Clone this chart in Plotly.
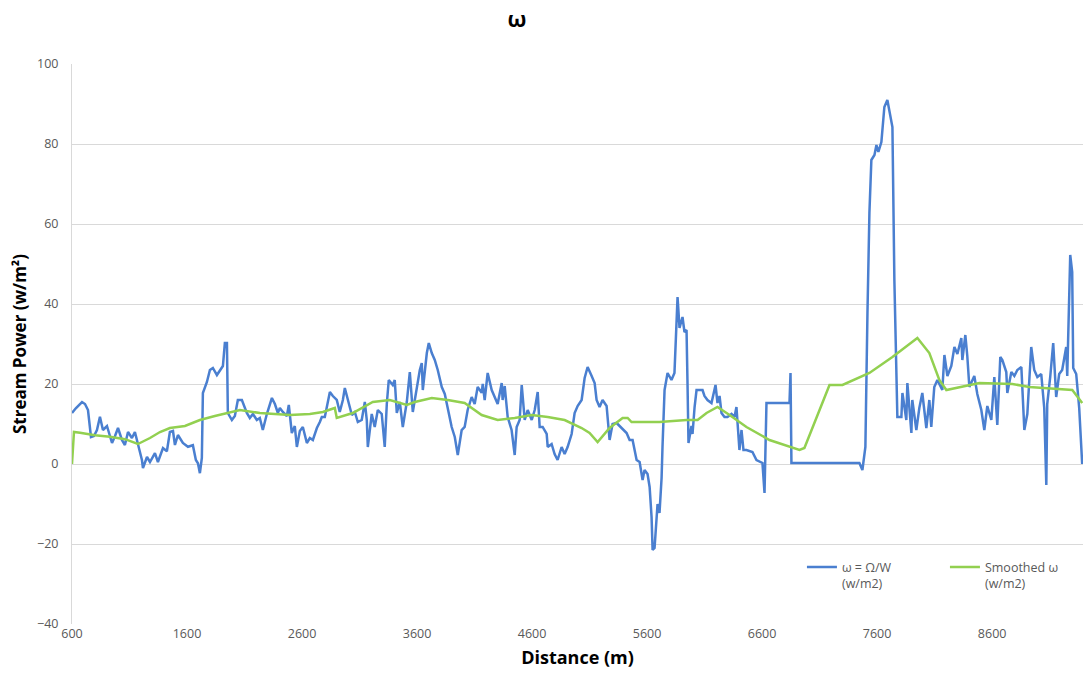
import plotly.graph_objects as go

# Raw ω = Ω/W series (distance in m, value in w/m2)
omega_dist = [600, 635, 687, 713, 739, 765, 791, 817, 843, 869, 904, 948, 974, 1000, 1034, 1060, 1087, 1121, 1147, 1173,
              1208, 1217, 1252, 1278, 1321, 1347, 1391, 1425, 1451, 1478, 1495, 1521, 1564, 1608, 1651, 1677, 1695, 1712, 1729, 1738,
              1773, 1799, 1825, 1860, 1886, 1912, 1929, 1947, 1955, 1990, 2016, 2042, 2077, 2120, 2146, 2173, 2207, 2233, 2259, 2294,
              2338, 2364, 2390, 2407, 2433, 2468, 2485, 2511, 2537, 2555, 2581, 2607, 2642, 2668, 2694, 2729, 2755, 2772, 2798, 2842,
              2868, 2902, 2928, 2955, 2972, 2998, 3033, 3059, 3085, 3119, 3146, 3163, 3172, 3206, 3232, 3259, 3293, 3319, 3337, 3354,
              3389, 3406, 3424, 3450, 3476, 3511, 3537, 3563, 3598, 3624, 3641, 3650, 3685, 3702, 3728, 3754, 3780, 3815, 3841, 3867,
              3901, 3928, 3954, 3988, 4014, 4040, 4075, 4101, 4127, 4162, 4171, 4188, 4214, 4249, 4275, 4301, 4336, 4344, 4362, 4388,
              4422, 4449, 4466, 4492, 4510, 4536, 4562, 4597, 4623, 4649, 4666, 4692, 4727, 4736, 4770, 4796, 4822, 4857, 4883, 4909,
              4944, 4970, 4996, 5031, 5057, 5083, 5118, 5144, 5161, 5187, 5213, 5248, 5274, 5300, 5335, 5378, 5422, 5448, 5474, 5509,
              5535, 5561, 5578, 5604, 5622, 5639, 5648, 5665, 5682, 5691, 5708, 5726, 5734, 5752, 5778, 5812, 5838, 5856, 5865, 5882,
              5908, 5925, 5943, 5951, 5960, 5986, 5995, 6013, 6030, 6082, 6099, 6125, 6160, 6195, 6212, 6230, 6247, 6273, 6299, 6334,
              6360, 6377, 6403, 6421, 6438, 6464, 6516, 6551, 6603, 6621, 6638, 6838, 6847, 6855, 7446, 7472, 7498, 7516, 7533, 7550,
              7577, 7594, 7611, 7637, 7646, 7663, 7689, 7707, 7733, 7750, 7768, 7776, 7811, 7820, 7854, 7863, 7898, 7906, 7941, 7967,
              7993, 8028, 8054, 8071, 8097, 8124, 8167, 8185, 8211, 8245, 8272, 8298, 8332, 8341, 8367, 8384, 8402, 8445, 8471, 8506,
              8532, 8558, 8593, 8619, 8645, 8671, 8689, 8723, 8732, 8767, 8793, 8819, 8854, 8880, 8906, 8940, 8966, 8993, 9027, 9053,
              9071, 9079, 9105, 9131, 9157, 9183, 9209, 9244, 9253, 9279, 9296, 9305, 9331, 9357, 9383]
omega_vals = [12.75, 14, 15.5, 15, 13.5, 6.75, 7, 8.5, 11.8, 8.5, 9.5, 5.25, 7, 9, 6, 4.75, 8, 6.5, 8, 4.75,
              1, -1, 1.75, 0.5, 2.7, 0.5, 4, 3.2, 8, 8.25, 4.75, 7.25, 5.25, 4.3, 4.7, 1, 0.2, -2.3, 1.5, 17.75,
              20.5, 23.5, 24, 22.25, 23.5, 24.5, 30.25, 30.25, 12.75, 11, 12, 16, 16, 12.75, 11.5, 12.5, 11, 11.5, 8.5, 12.5,
              16.5, 15, 12.75, 14, 13, 12, 14.75, 7.75, 9.5, 4.25, 8.25, 9.25, 5.25, 6.5, 6, 9, 10.5, 11.75, 11.75, 18,
              17, 16, 13, 16, 19, 16, 12.25, 13, 10.5, 11, 15.5, 11, 4.25, 12.5, 9.25, 13.5, 12.5, 4.25, 15, 21,
              19.75, 21, 12.75, 15.5, 9.25, 15.5, 23, 13, 19, 23.5, 25.25, 18.5, 27.75, 30.25, 27.75, 26, 23.5, 19.25, 17.5, 14.25,
              9.25, 6.75, 2.25, 8.5, 9.25, 13.5, 16.75, 15, 19.25, 17.8, 20, 16, 22.75, 18.5, 16.75, 15, 20.25, 16, 19.5, 11.75,
              8.5, 2.25, 9.25, 11, 19.75, 11, 13.5, 11, 13.5, 18, 9.25, 9.25, 7.5, 4.25, 5, 2.5, 1, 4.25, 2.5, 4.25,
              7.5, 12.75, 14.5, 16, 21.5, 24.25, 22, 20.25, 16, 14.25, 16, 14.5, 6, 10, 10.25, 9, 7.75, 6, 6, 1,
              0.5, -4, -1.5, -2.5, -5.75, -13.25, -21.5, -21, -14, -10, -12.25, -3.5, 4.25, 18.5, 22.75, 21, 22.75, 39.25, 41.75, 34,
              36.75, 33, 33.5, 21, 5.25, 9.5, 7.5, 14.25, 18.5, 18.5, 17, 16, 15.25, 19.75, 15.25, 17, 12.75, 11.75, 11.75, 12.5,
              11.75, 14.25, 3.5, 8.5, 3.5, 3.5, 3, 1, 0.25, -7.25, 15.25, 15.25, 22.75, 0.25, 0.25, -1.5, 4.25, 37.75, 62.75, 76,
              77.25, 79.75, 78, 80.5, 83.5, 89.25, 91, 88.5, 84.25, 46, 16.75, 11.75, 11.75, 17.75, 11, 20.25, 7.75, 16, 8.5, 14,
              17.75, 9, 16, 9.25, 19.25, 21, 18.5, 27.25, 22, 24.5, 29.25, 27.5, 31.5, 26, 32.25, 27, 19.25, 22, 17.5, 13.5,
              8.5, 14.5, 11, 21.75, 9.75, 26.75, 26, 23, 17.75, 23, 22, 23.5, 24.25, 8.5, 12.5, 29.25, 23.5, 21.75, 22.5, 14,
              -5.25, 15, 21.75, 30.25, 16.75, 22.5, 23.5, 29.25, 22, 52.25, 48, 24, 22.5, 14, 0]

# Smoothed ω series
smooth_dist = [600, 617, 670, 800, 930, 1060, 1173, 1278, 1365, 1451, 1582, 1712, 1842, 1973, 2060, 2233, 2494, 2668, 2781, 2885,
               2902, 3041, 3215, 3363, 3511, 3580, 3728, 3867, 4014, 4162, 4301, 4449, 4597, 4736, 4883, 5031, 5100, 5170, 5274, 5387,
               5431, 5465, 5708, 5943, 6039, 6117, 6212, 6317, 6464, 6664, 6925, 6968, 7186, 7299, 7533, 7733, 7950, 8054, 8141, 8202,
               8489, 8776, 8923, 9297, 9383]
smooth_vals = [0, 8, 7.8, 7.2, 6.8, 6.2, 5, 6.5, 8, 9, 9.5, 11, 12, 13, 13.5, 12.75, 12.25, 12.5, 13, 14,
               11.5, 12.75, 15.5, 16, 14.75, 15.5, 16.5, 16, 15.25, 12.25, 11, 11.5, 12.25, 11.75, 11, 9, 7.75, 5.5, 9, 11.5,
               11.5, 10.5, 10.5, 11, 11, 12.75, 14.25, 12.25, 9.25, 6, 3.5, 4, 19.75, 19.75, 22.75, 26.75, 31.5, 27.75, 21, 18.5,
               20.25, 20, 19.25, 18.5, 15.25]

x_ticks = [600, 1600, 2600, 3600, 4600, 5600, 6600, 7600, 8600]
y_ticks = [-40, -20, 0, 20, 40, 60, 80, 100]

FONT = "Open Sans"

fig = go.Figure()
fig.add_trace(go.Scatter(x=omega_dist, y=omega_vals, mode="lines",
                         name="ω = Ω/W<br>(w/m2)",
                         line=dict(color="#4A7FD0", width=2.5)))
fig.add_trace(go.Scatter(x=smooth_dist, y=smooth_vals, mode="lines",
                         name="Smoothed ω<br>(w/m2)",
                         line=dict(color="#92D050", width=2.5)))

fig.update_layout(
    width=1084, height=683,
    paper_bgcolor="white", plot_bgcolor="white",
    margin=dict(l=72, r=1, t=64, b=59, autoexpand=False),
    font=dict(family=FONT, color="#595959", size=12),
    title=dict(text="<b>ω</b>", x=0.477, xanchor="center", y=0.972, yanchor="middle",
               font=dict(family=FONT, size=22, color="black")),
    showlegend=True,
    legend=dict(orientation="h", x=0.722, y=0.128, xanchor="left", yanchor="top",
                bgcolor="rgba(0,0,0,0)", font=dict(family=FONT, size=12.5, color="#595959"),
                itemwidth=30, valign="top", tracegroupgap=0, entrywidth=98),
)
fig.update_xaxes(range=[600, 9390], tickmode="array", tickvals=x_ticks,
                 ticktext=[str(v) for v in x_ticks], automargin=False,
                 showgrid=False, zeroline=False, showline=False, ticks="",
                 title=dict(text="<b>Distance (m)</b>", font=dict(family=FONT, size=18, color="black"),
                            standoff=10),
                 tickfont=dict(size=12.5, color="#595959"))
fig.update_yaxes(range=[-40, 100], tickmode="array", tickvals=y_ticks, automargin=False,
                 showgrid=True, gridcolor="#D9D9D9", gridwidth=1, ticklabelstandoff=10,
                 zeroline=False, showline=True, linecolor="#D9D9D9", linewidth=1, ticks="",
                 title=dict(text="<b>Stream Power (w/m²)</b>", font=dict(family=FONT, size=17, color="black"),
                            standoff=6),
                 tickfont=dict(size=12.5, color="#595959"))

fig.write_html("out.html", config={"displayModeBar": False},
               post_script="document.body.style.margin='0';document.body.style.padding='0';")
